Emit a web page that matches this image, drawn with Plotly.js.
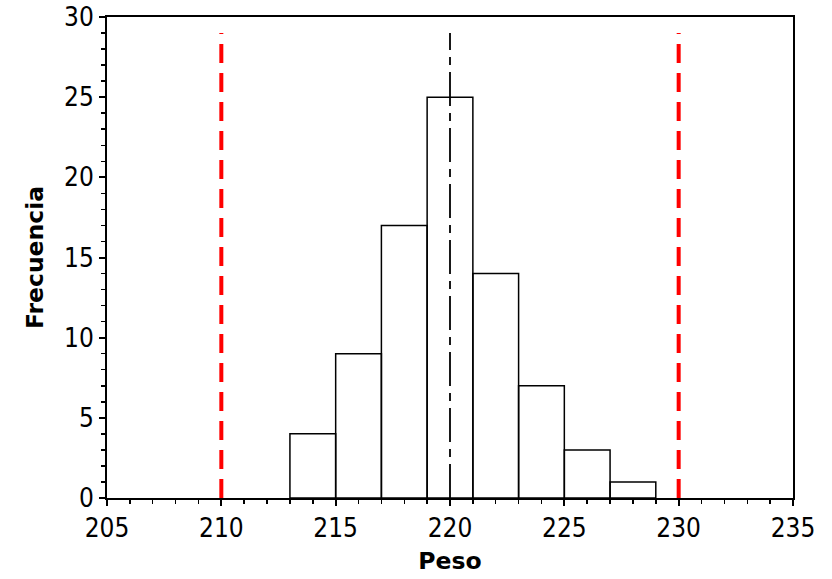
<!DOCTYPE html>
<html>
<head>
<meta charset="utf-8">
<script src="https://cdn.plot.ly/plotly-3.0.1.min.js"></script>
<style>html,body{margin:0;padding:0;background:#fff;}#chart{width:832px;height:579px;}</style>
</head>
<body>
<div id="chart"></div>
<script>
// Histogram data (bin centers, width 2)
const binCenters = [214, 216, 218, 220, 222, 224, 226, 228];
const counts = [4, 9, 17, 25, 14, 7, 3, 1];
const binWidth = 2;
// Reference lines
const specLimits = [210, 230];
const targetValue = 220;
const lineBottom = 0;
const lineTop = 29;
// Axis labels
const xTitle = 'Peso';
const yTitle = 'Frecuencia';

const tickFont = {family: '"DejaVu Sans Condensed", "Liberation Sans", sans-serif', size: 26, color: '#000'};
const titleFont = {family: '"DejaVu Sans", sans-serif', size: 23.5, color: '#000', weight: 'bold'};

const traces = [
  {
    type: 'bar', x: binCenters, y: counts, width: binCounts(),
    marker: {color: 'rgba(255,255,255,0)', line: {color: '#000', width: 1.5}},
    hoverinfo: 'x+y', showlegend: false
  }
];
function binCounts(){ return binCenters.map(() => binWidth); }

specLimits.forEach(v => traces.push({
  type: 'scatter', mode: 'lines', x: [v, v], y: [lineBottom, lineTop],
  line: {color: '#ff0000', width: 4, dash: '19px,10px'}, showlegend: false
}));
traces.push({
  type: 'scatter', mode: 'lines', x: [targetValue, targetValue], y: [lineBottom, lineTop],
  line: {color: '#000', width: 1.8, dash: '34px,7px,8px,7px'}, showlegend: false
});

const layout = {
  width: 832, height: 579,
  margin: {l: 107, r: 39, t: 17, b: 81},
  paper_bgcolor: '#fff', plot_bgcolor: '#fff',
  showlegend: false,
  xaxis: {
    range: [205, 235], dtick: 5, tick0: 205,
    showgrid: false, zeroline: false,
    showline: true, mirror: true, linecolor: '#000', linewidth: 2,
    ticks: 'outside', ticklen: 6, tickwidth: 2, tickcolor: '#000',
    minor: {dtick: 1, ticks: 'outside', ticklen: 4, tickwidth: 1.5, tickcolor: '#000', showgrid: false},
    tickfont: tickFont,
    title: {text: xTitle, font: titleFont, standoff: 10}
  },
  yaxis: {
    range: [0, 30], dtick: 5,
    showgrid: false, zeroline: false,
    showline: true, mirror: true, linecolor: '#000', linewidth: 2,
    ticks: 'outside', ticklen: 6, tickwidth: 2, tickcolor: '#000',
    minor: {dtick: 1, ticks: 'outside', ticklen: 4, tickwidth: 1.5, tickcolor: '#000', showgrid: false},
    tickfont: tickFont,
    title: {text: yTitle, font: titleFont, standoff: 14}
  },
  bargap: 0
};

Plotly.newPlot('chart', traces, layout, {staticPlot: true});
</script>
</body>
</html>
